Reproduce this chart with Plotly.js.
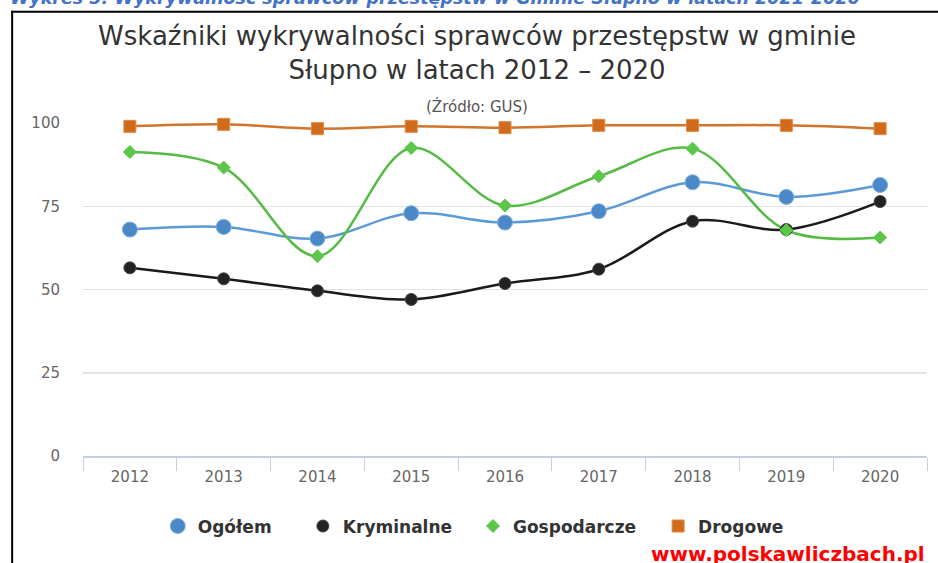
<!DOCTYPE html>
<html>
<head>
<meta charset="utf-8">
<script src="https://cdn.plot.ly/plotly-3.0.1.min.js"></script>
<style>html,body{margin:0;padding:0;background:#fff;}#chart{width:938px;height:563px;}</style>
</head>
<body>
<div id="chart"></div>
<script>
// ---- data ----
const years = ['2012','2013','2014','2015','2016','2017','2018','2019','2020'];
const ogolem = [68.0, 68.8, 65.3, 72.9, 70.1, 73.5, 82.2, 77.8, 81.4];
const kryminalne = [56.5, 53.2, 49.6, 47.0, 51.8, 56.1, 70.5, 68.0, 76.4];
const gospodarcze = [91.3, 86.6, 60.0, 92.5, 75.2, 84.0, 92.3, 67.8, 65.6];
const drogowe = [99.0, 99.6, 98.3, 99.0, 98.6, 99.3, 99.3, 99.3, 98.3];
const seriesNames = ['Ogółem', 'Kryminalne', 'Gospodarcze', 'Drogowe'];
const yTicks = [0, 25, 50, 75, 100];

// ---- layout geometry (pixels) ----
const W = 938, H = 563;
const L = 83.3, R = 926.7, T = 123.3, B = 456.5;
const px2x = p => (p - L) / (R - L);
const px2y = p => (B - p) / (B - T);

const FONT = 'DejaVu Sans, Open Sans, sans-serif';

const styles = [
  {line: '#5B9BD5', marker: '#4A88C8', border: '#7FB0E0', symbol: 'circle', size: 15},
  {line: '#1A1A1A', marker: '#222222', border: '#444444', symbol: 'circle', size: 12},
  {line: '#55BB44', marker: '#5CC64A', border: '#5CC64A', symbol: 'diamond', size: 10},
  {line: '#D2742A', marker: '#D06A1C', border: '#E08A40', symbol: 'square', size: 12}
];
const legendTextX = [200, 345, 515, 700];
const allData = [ogolem, kryminalne, gospodarcze, drogowe];
const legendIds = ['legend', 'legend2', 'legend3', 'legend4'];

const traces = [];
allData.forEach((vals, i) => {
  const s = styles[i];
  traces.push({
    x: years, y: vals, type: 'scatter', mode: 'lines',
    line: {color: s.line, width: 2.5, shape: 'spline', smoothing: 1},
    showlegend: false, hoverinfo: 'skip', cliponaxis: false
  });
});
allData.forEach((vals, i) => {
  const s = styles[i];
  traces.push({
    x: years, y: vals, type: 'scatter', mode: 'markers', name: seriesNames[i],
    legend: legendIds[i],
    marker: {symbol: s.symbol, size: s.size, color: s.marker, line: {color: s.border, width: 1}},
    showlegend: true, hoverinfo: 'skip', cliponaxis: false
  });
});

const layout = {
  width: W, height: H,
  margin: {l: L, r: W - R, t: T, b: H - B, pad: 0},
  paper_bgcolor: '#ffffff', plot_bgcolor: '#ffffff',
  font: {family: FONT, color: '#666666', size: 15},
  title: {
    text: 'Wskaźniki wykrywalności sprawców przestępstw w gminie<br>Słupno w latach 2012 – 2020',
    x: 477 / W, xanchor: 'center', xref: 'container',
    y: 1 - 45 / H, yanchor: 'top', yref: 'container',
    font: {family: FONT, size: 26, color: '#333333'}
  },
  xaxis: {
    type: 'category', range: [-0.5, 8.5], fixedrange: true,
    showgrid: false, zeroline: false,
    showline: true, linecolor: '#C0D0E0', linewidth: 1.5,
    ticks: 'outside', tickson: 'boundaries', ticklen: 13, tickcolor: '#C0D0E0', tickwidth: 1,
    ticklabelstandoff: 6,
    tickfont: {family: FONT, size: 15, color: '#666666'}
  },
  yaxis: {
    range: [0, 100], fixedrange: true,
    tickvals: yTicks, ticktext: yTicks.map(String),
    showgrid: true, gridcolor: '#E3E3E3', gridwidth: 1.5,
    zeroline: false, showline: false, ticks: '',
    ticklabelstandoff: 22,
    tickfont: {family: FONT, size: 15, color: '#666666'}
  },
  showlegend: true,
  annotations: [
    {text: '(Źródło: GUS)', xref: 'paper', yref: 'paper', x: px2x(477), y: px2y(107),
     xanchor: 'center', yanchor: 'middle', showarrow: false,
     font: {family: FONT, size: 15, color: '#555555'}},
    {text: 'www.polskawliczbach.pl', xref: 'paper', yref: 'paper', x: px2x(927), y: px2y(555),
     xanchor: 'right', yanchor: 'middle', showarrow: false,
     font: {family: FONT, size: 20, color: '#FF0000', weight: 'bold'}},
    {text: '<b><i>Wykres 5: Wykrywalność sprawców przestępstw w Gminie Słupno w latach 2021-2020</i></b>',
     xref: 'paper', yref: 'paper', x: px2x(8), y: px2y(-2),
     xanchor: 'left', yanchor: 'middle', showarrow: false,
     font: {family: FONT, size: 17.5, color: '#4472C4'}}
  ],
  shapes: [
    {type: 'line', xref: 'paper', yref: 'paper', x0: px2x(12.5), x1: px2x(12.5), y0: px2y(11), y1: px2y(570),
     line: {color: '#000000', width: 2}},
    {type: 'line', xref: 'paper', yref: 'paper', x0: px2x(11.5), x1: px2x(940), y0: px2y(12), y1: px2y(12),
     line: {color: '#000000', width: 2}}
  ]
};

legendIds.forEach((id, i) => {
  layout[id] = {
    orientation: 'h', x: px2x(legendTextX[i] - 42), xanchor: 'left', y: px2y(527), yanchor: 'middle',
    font: {family: FONT, size: 17, color: '#333333', weight: 'bold'},
    itemclick: false, itemdoubleclick: false, bgcolor: 'rgba(0,0,0,0)'
  };
});

Plotly.newPlot('chart', traces, layout, {displayModeBar: false, staticPlot: true});
</script>
</body>
</html>
